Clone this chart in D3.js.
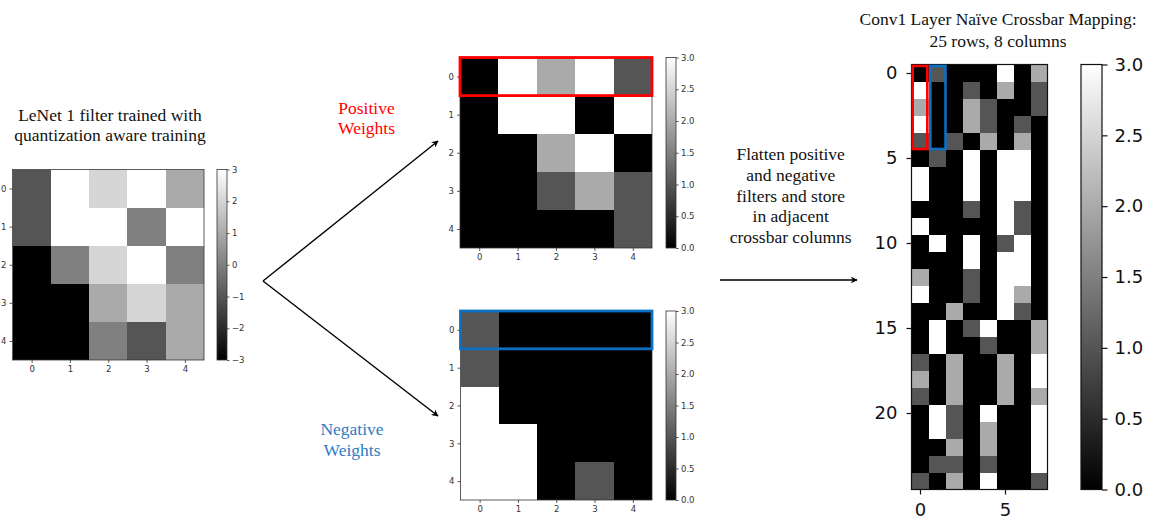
<!DOCTYPE html>
<html>
<head>
<meta charset="utf-8">
<script src="https://cdn.jsdelivr.net/npm/d3@7/dist/d3.min.js"></script>
<style>
  body { margin: 0; background: #fff; }
  svg { display: block; }
  .serif { font-family: "Liberation Serif", "Times New Roman", serif; }
</style>
</head>
<body>
<svg id="fig" width="1151" height="519"></svg>
<script>
// ---- data ----
const kernelIdx = [0, 1, 2, 3, 4];

// LeNet conv1 filter 1, quantised weights in [-3, 3]
const filterWeights = [
  [-1,  3,  2,  3,  1],
  [-1,  3,  3,  0,  3],
  [-3,  0,  2,  3,  0],
  [-3, -3,  1,  2,  1],
  [-3, -3,  0, -1,  1]
];

// positive part of the filter
const positiveWeights = [
  [0, 3, 2, 3, 1],
  [0, 3, 3, 0, 3],
  [0, 0, 2, 3, 0],
  [0, 0, 1, 2, 1],
  [0, 0, 0, 0, 1]
];

// magnitude of the negative part of the filter
const negativeWeights = [
  [1, 0, 0, 0, 0],
  [1, 0, 0, 0, 0],
  [3, 0, 0, 0, 0],
  [3, 3, 0, 0, 0],
  [3, 3, 0, 1, 0]
];

// conv1 crossbar: 25 rows (flattened 5x5 kernels) x 8 columns (+/- pairs of 4 filters)
const crossbarWeights = [
  [0, 1, 0, 0, 0, 3, 0, 2],
  [3, 0, 0, 1, 0, 2, 0, 1],
  [2, 0, 0, 2, 1, 0, 0, 1],
  [3, 0, 0, 2, 1, 0, 1, 0],
  [1, 0, 1, 0, 2, 0, 2, 0],
  [0, 1, 0, 3, 0, 3, 3, 0],
  [3, 0, 0, 3, 0, 3, 3, 0],
  [3, 0, 0, 3, 0, 3, 3, 0],
  [0, 0, 0, 1, 0, 3, 1, 0],
  [3, 0, 0, 0, 0, 3, 1, 0],
  [0, 3, 0, 3, 0, 1, 3, 0],
  [0, 0, 0, 3, 0, 3, 3, 0],
  [2, 0, 0, 1, 0, 3, 3, 0],
  [3, 0, 0, 1, 0, 3, 2, 0],
  [0, 0, 2, 0, 0, 3, 1, 0],
  [0, 3, 0, 1, 3, 0, 0, 2],
  [0, 3, 0, 0, 1, 0, 0, 2],
  [1, 0, 2, 0, 0, 2, 0, 3],
  [2, 0, 2, 0, 0, 2, 0, 3],
  [1, 0, 2, 0, 0, 2, 0, 2],
  [0, 3, 1, 0, 3, 0, 0, 3],
  [0, 3, 1, 0, 2, 0, 0, 3],
  [0, 0, 2, 0, 2, 0, 0, 3],
  [0, 1, 1, 0, 1, 0, 0, 3],
  [1, 0, 2, 0, 3, 0, 0, 1]
];

const filterTicks   = [-3, -2, -1, 0, 1, 2, 3];
const splitTicks    = [0, 0.5, 1, 1.5, 2, 2.5, 3];
const crossbarRowTicks = [0, 5, 10, 15, 20];
const crossbarColTicks = [0, 5];

// ---- drawing helpers ----
const svg = d3.select("#fig");
svg.append("rect").attr("width", 1151).attr("height", 519).attr("fill", "#fff");

const defs = svg.append("defs");
defs.append("marker")
  .attr("id", "arrowhead")
  .attr("viewBox", "0 0 10 10")
  .attr("refX", 9).attr("refY", 5)
  .attr("markerWidth", 7).attr("markerHeight", 7)
  .attr("markerUnits", "userSpaceOnUse")
  .attr("orient", "auto")
  .append("path").attr("d", "M0,0 L10,5 L0,10 L3,5 Z").attr("fill", "#000");

function styleAxis(g, fontSize, color) {
  g.select(".domain").remove();
  g.selectAll(".tick line").attr("stroke", color).attr("stroke-width", fontSize > 12 ? 1.2 : 0.8);
  g.selectAll(".tick text")
    .attr("fill", color)
    .style("font-family", "'DejaVu Sans', sans-serif")
    .style("font-size", fontSize + "px");
}

function heatmap(o) {
  const nR = o.data.length, nC = o.data[0].length;
  const x = d3.scaleLinear().domain([-0.5, nC - 0.5]).range([o.left, o.left + o.width]);
  const y = d3.scaleLinear().domain([-0.5, nR - 0.5]).range([o.top, o.top + o.height]);
  const color = d3.scaleLinear().domain(o.domain).range(["#000000", "#ffffff"]).clamp(true);
  const g = svg.append("g");
  const cells = o.data.flatMap((row, r) => row.map((v, c) => ({ r, c, v })));
  g.append("g").selectAll("rect").data(cells).join("rect")
    .attr("x", d => x(d.c - 0.5))
    .attr("y", d => y(d.r - 0.5))
    .attr("width", d => x(d.c + 0.5) - x(d.c - 0.5))
    .attr("height", d => y(d.r + 0.5) - y(d.r - 0.5))
    .attr("fill", d => color(d.v))
    .attr("shape-rendering", "crispEdges");
  // frame
  g.append("rect")
    .attr("x", o.left).attr("y", o.top).attr("width", o.width).attr("height", o.height)
    .attr("fill", "none").attr("stroke", o.axisColor).attr("stroke-width", o.fontSize > 12 ? 1.2 : 0.8);
  const ax = g.append("g").attr("transform", `translate(0,${o.top + o.height})`)
    .call(d3.axisBottom(x).tickValues(o.colTicks).tickFormat(d3.format("d"))
      .tickSize(o.tickLen).tickPadding(o.pad));
  styleAxis(ax, o.fontSize, o.axisColor);
  const ay = g.append("g").attr("transform", `translate(${o.left},0)`)
    .call(d3.axisLeft(y).tickValues(o.rowTicks).tickFormat(d3.format("d"))
      .tickSize(o.tickLen).tickPadding(o.pad));
  styleAxis(ay, o.fontSize, o.axisColor);
  return { x, y };
}

let gradCount = 0;
function colorbar(o) {
  const id = "grad" + (gradCount++);
  const lg = defs.append("linearGradient").attr("id", id)
    .attr("x1", 0).attr("y1", 1).attr("x2", 0).attr("y2", 0);
  lg.append("stop").attr("offset", "0%").attr("stop-color", "#000");
  lg.append("stop").attr("offset", "100%").attr("stop-color", "#fff");
  const g = svg.append("g");
  g.append("rect")
    .attr("x", o.left).attr("y", o.top).attr("width", o.width).attr("height", o.height)
    .attr("fill", `url(#${id})`)
    .attr("stroke", o.axisColor).attr("stroke-width", o.fontSize > 12 ? 1.2 : 0.8);
  const s = d3.scaleLinear().domain(o.domain).range([o.top + o.height, o.top]);
  const a = g.append("g").attr("transform", `translate(${o.left + o.width},0)`)
    .call(d3.axisRight(s).tickValues(o.ticks).tickFormat(o.format)
      .tickSize(o.tickLen).tickPadding(o.pad));
  styleAxis(a, o.fontSize, o.axisColor);
}

function textBlock(lines, cx, baselines, size, color) {
  const t = svg.append("g").attr("class", "serif");
  lines.forEach((s, i) => {
    t.append("text")
      .attr("x", cx).attr("y", baselines[i])
      .attr("text-anchor", "middle")
      .attr("fill", color)
      .style("font-size", size + "px")
      .text(s);
  });
}

function arrow(x1, y1, x2, y2) {
  svg.append("line")
    .attr("x1", x1).attr("y1", y1).attr("x2", x2).attr("y2", y2)
    .attr("stroke", "#000").attr("stroke-width", 1.4)
    .attr("marker-end", "url(#arrowhead)");
}

const small = { fontSize: 8.5, tickLen: 3, pad: 3, axisColor: "#333" };
const serifSize = 17.5;

// ---- left: original filter ----
textBlock(["LeNet 1 filter trained with", "quantization aware training"], 110, [121, 141], serifSize, "#111");
heatmap({ ...small, data: filterWeights, left: 12.5, top: 169.5, width: 191.5, height: 190.5,
  domain: [-3, 3], rowTicks: kernelIdx, colTicks: kernelIdx });
colorbar({ ...small, left: 217, top: 169.5, width: 10, height: 190.5, domain: [-3, 3],
  ticks: filterTicks, format: d3.format("d"), tickLen: 2.5, pad: 2.5 });

// split arrows
arrow(263, 281, 438, 141);
arrow(263, 281, 438, 416);
textBlock(["Positive", "Weights"], 366.5, [113.5, 134], serifSize, "#ff0000");
textBlock(["Negative", "Weights"], 352, [435, 455.5], serifSize, "#2e7bc4");

// ---- middle top: positive weights ----
const pos = heatmap({ ...small, data: positiveWeights, left: 460, top: 57.5, width: 192, height: 190.5,
  domain: [0, 3], rowTicks: kernelIdx, colTicks: kernelIdx });
colorbar({ ...small, left: 666, top: 57.5, width: 10, height: 190.5, domain: [0, 3],
  ticks: splitTicks, format: d3.format(".1f"), tickLen: 2.7, pad: 2.3 });
svg.append("rect")
  .attr("x", pos.x(-0.5)).attr("y", pos.y(-0.5))
  .attr("width", pos.x(4.5) - pos.x(-0.5)).attr("height", pos.y(0.5) - pos.y(-0.5))
  .attr("fill", "none").attr("stroke", "#ff0000").attr("stroke-width", 2.8);

// ---- middle bottom: negative weights ----
const neg = heatmap({ ...small, data: negativeWeights, left: 460.5, top: 311, width: 191.5, height: 189,
  domain: [0, 3], rowTicks: kernelIdx, colTicks: kernelIdx });
colorbar({ ...small, left: 666, top: 311, width: 10, height: 189, domain: [0, 3],
  ticks: splitTicks, format: d3.format(".1f"), tickLen: 2.7, pad: 2.3 });
svg.append("rect")
  .attr("x", neg.x(-0.5)).attr("y", neg.y(-0.5))
  .attr("width", neg.x(4.5) - neg.x(-0.5)).attr("height", neg.y(0.5) - neg.y(-0.5))
  .attr("fill", "none").attr("stroke", "#0b6fc2").attr("stroke-width", 2.8);

// ---- flatten note ----
textBlock(["Flatten positive", "and negative", "filters and store", "in adjacent", "crossbar columns"],
  790.7, [159.5, 180.5, 201.5, 222, 242.5], serifSize, "#111");
arrow(720, 280, 857, 280);

// ---- right: crossbar mapping ----
textBlock(["Conv1 Layer Naïve Crossbar Mapping:", "25 rows, 8 columns"], 998, [25, 47], serifSize, "#111");
const big = { fontSize: 18, tickLen: 5, pad: 9, axisColor: "#111" };
const cb = heatmap({ ...big, data: crossbarWeights, left: 911.5, top: 64.5, width: 136, height: 425,
  domain: [0, 3], rowTicks: crossbarRowTicks, colTicks: crossbarColTicks });
colorbar({ ...big, left: 1081, top: 64.5, width: 21, height: 425, domain: [0, 3],
  ticks: splitTicks, format: d3.format(".1f"), tickLen: 5.5, pad: 7 });

// highlight first positive / negative column pair (rows 0-4)
svg.append("rect")
  .attr("x", cb.x(-0.5) + 1.2).attr("y", cb.y(-0.5) + 1.5)
  .attr("width", cb.x(0.5) - cb.x(-0.5) - 2.4).attr("height", cb.y(4.5) - cb.y(-0.5) - 2)
  .attr("fill", "none").attr("stroke", "#ff0000").attr("stroke-width", 2.6);
svg.append("rect")
  .attr("x", cb.x(0.5) + 1.8).attr("y", cb.y(-0.5) + 1.5)
  .attr("width", cb.x(1.5) - cb.x(0.5) - 1.8).attr("height", cb.y(4.5) - cb.y(-0.5) - 2)
  .attr("fill", "none").attr("stroke", "#0b6fc2").attr("stroke-width", 2.6);
</script>
</body>
</html>
